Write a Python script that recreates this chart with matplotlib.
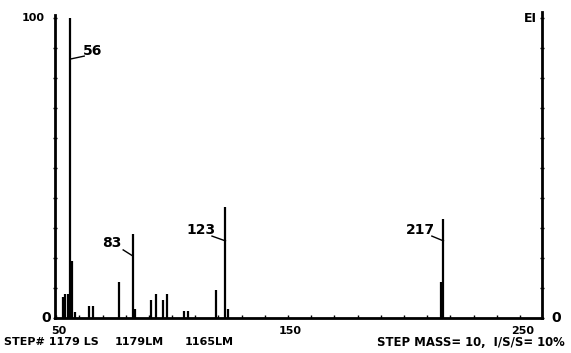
import matplotlib
matplotlib.use("Agg")
import matplotlib.pyplot as plt
import numpy as np

# EI mass spectrum (m/z vs relative intensity %)
masses = [53, 54, 55, 56, 57, 58, 64, 66, 77, 83, 84, 91, 93, 96, 98,
          105, 107, 119, 123, 124, 216, 217]
intensities = [7, 8, 8, 100, 19, 2, 4, 4, 12, 28, 3, 6, 8, 6, 8,
               2.5, 2.5, 9.5, 37, 3, 12, 33]

# labelled peaks: mass, label position (data coords), leader line start
peak_labels = [56, 83, 123, 217]
label_pos = [(61.6, 89), (69.8, 25), (106.0, 29.3), (200.9, 29.3)]
leader_start = [(62.1, 87.3), (78.9, 22.7), (117.2, 27.3), (212.0, 27.3)]
leader_end_y = [86.3, 20.7, 25.7, 25.7]

x_ticks = [50, 150, 250]
step_notes = ["STEP# 1179 LS", "1179LM", "1165LM"]
step_note_x = [4, 115, 185]
footer = "STEP MASS= 10,  I/S/S= 10%"

W, H = 571, 353
fig = plt.figure(figsize=(W / 100, H / 100), dpi=100)
ax = fig.add_axes([55 / W, 1 - 318 / H, (542 - 55) / W, 300 / H])
ax.set_xlim(49.5, 259.5)
ax.set_ylim(0, 100)

ax.vlines(masses, 0, intensities, color="black", linewidth=1.6)

for m, (lx, ly), (sx, sy), ey in zip(peak_labels, label_pos,
                                      leader_start, leader_end_y):
    ax.text(lx, ly, str(m), fontsize=10, fontweight="bold",
            ha="left", va="center")
    ax.plot([sx, m], [sy, ey], color="black", linewidth=1.0)

for s in ["left", "right", "bottom"]:
    ax.spines[s].set_linewidth(2)
ax.spines["top"].set_visible(False)
ax.spines["left"].set_bounds(0, 101)
ax.spines["right"].set_bounds(0, 102)

ax.set_xticks(np.arange(50, 260, 10))
ax.set_xticklabels([])
ax.set_yticks(np.arange(0, 101, 10))
ax.set_yticklabels([])
ax.tick_params(axis="x", direction="in", length=2, width=1)
ax.tick_params(axis="y", direction="inout", length=3, width=1, right=True)

ax.text(-0.045, 1.0, "100", transform=ax.transAxes, fontsize=8,
        fontweight="bold", ha="center", va="center")
ax.text(-0.008, 0.0, "0", transform=ax.transAxes, fontsize=10,
        fontweight="bold", ha="right", va="center")
ax.text(1.02, 0.0, "0", transform=ax.transAxes, fontsize=10,
        fontweight="bold", ha="left", va="center")
ax.text(0.99, 1.0, "EI", transform=ax.transAxes, fontsize=9,
        fontweight="bold", ha="right", va="center")

for t in x_ticks:
    ax.text(t + 1, -4.5, str(t), fontsize=8, fontweight="bold",
            ha="center", va="center")

for note, x in zip(step_notes, step_note_x):
    fig.text(x / W, 1 - 342 / H, note, fontsize=8, fontweight="bold",
             ha="left", va="center")
fig.text(377 / W, 1 - 342 / H, footer, fontsize=8.4, fontweight="bold",
         ha="left", va="center")

fig.savefig("out.png", dpi=100)
